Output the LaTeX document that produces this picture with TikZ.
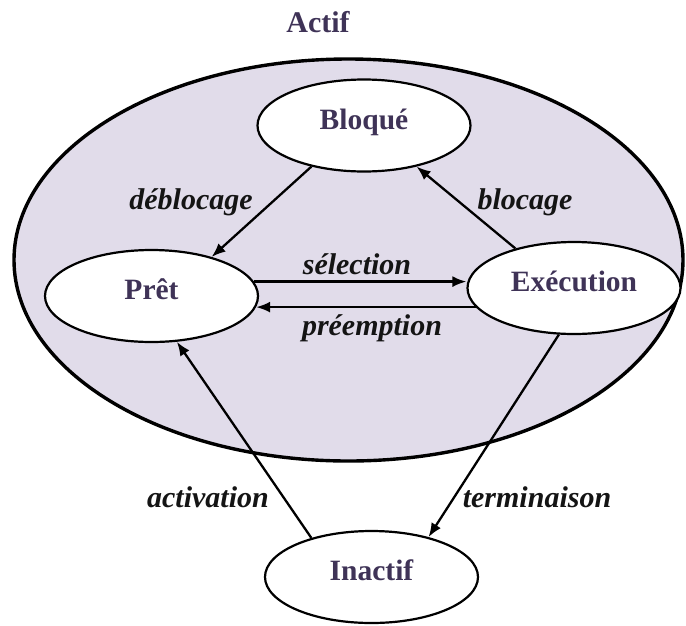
\documentclass[tikz,border=0pt]{standalone}
\usepackage{fontspec}
\setmainfont{Liberation Serif}
\usetikzlibrary{arrows.meta,shapes.geometric}
\definecolor{actifbg}{HTML}{E1DCEA}
\definecolor{stateink}{HTML}{3F3357}
\definecolor{labelink}{HTML}{141414}
\begin{document}
\begin{tikzpicture}[x=1pt,y=-1pt,
  statebox/.style={ellipse, draw=black, line width=2.2pt, fill=white,
    minimum width=213pt, minimum height=92pt, inner sep=0pt,
    text=stateink, font=\fontsize{29.5}{31}\selectfont\bfseries,
    text height=20pt, text depth=13pt},
  translabel/.style={text=labelink, inner sep=0pt,
    font=\fontsize{30}{32}\selectfont\bfseries\itshape},
  arr/.style={line width=2.3pt, -{Latex[length=14pt,width=11pt]}}]
\useasboundingbox (0,0) rectangle (686,625);

% outer "Actif" region
\node[ellipse, draw=black, line width=3.4pt, fill=actifbg,
  minimum width=669pt, minimum height=402pt, inner sep=0pt] (actif) at (348.5,260) {};
\node[text=stateink, inner sep=0pt, font=\fontsize{30}{32}\selectfont\bfseries] (actiflbl) at (318,22) {Actif};

% states
\node[statebox] (bloque) at (364,125.5) {Bloqué};
\node[statebox] (pret) at (151.5,296) {Prêt};
\node[statebox] (exec) at (574,288) {Exécution};
\node[statebox] (inactif) at (371.5,577) {Inactif};

% transitions
\draw[arr] (bloque.218) -- (pret.33);
\draw[arr] (exec.146) -- (bloque.-38);
\draw[arr] (pret.8) -- (exec.west |- pret.8);
\draw[arr] (exec.191) -- (pret.-6 |- exec.191);
\draw[arr] (inactif.147) -- (pret.-61);
\draw[arr] (exec.-108) -- (inactif.35);

% transition labels
\node[translabel] (ldeb) at (191,202) {déblocage};
\node[translabel] (lbloc) at (525,202) {blocage};
\node[translabel] (lsel) at (357,264) {sélection};
\node[translabel] (lpre) at (372,328) {préemption};
\node[translabel] (lact) at (208,497) {activation};
\node[translabel] (lterm) at (537,497) {terminaison};
\end{tikzpicture}
\end{document}
